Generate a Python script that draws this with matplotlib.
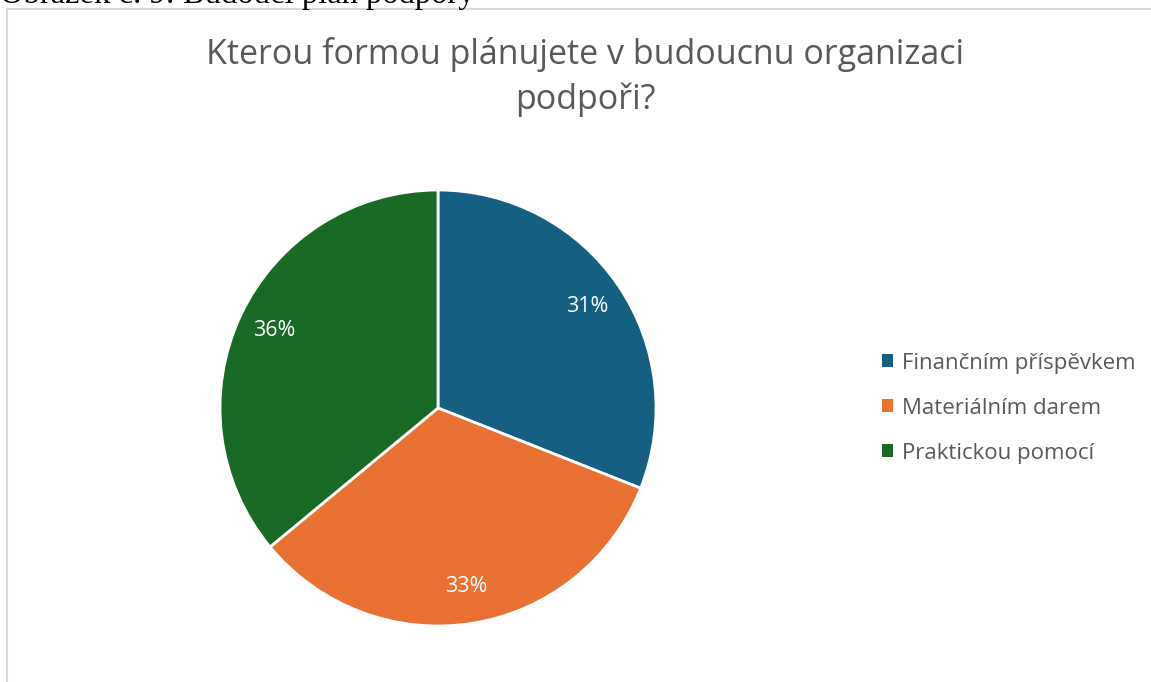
import matplotlib
matplotlib.use("Agg")
import matplotlib.pyplot as plt
from matplotlib.patches import Rectangle, Patch

categories = ["Finančním příspěvkem", "Materiálním darem", "Praktickou pomocí"]
values = [31, 33, 36]
colors = ["#156082", "#E97132", "#196B24"]
title = "Kterou formou plánujete v budoucnu organizaci\npodpoři?"
caption = "Obrázek č. 9: Budoucí plán podpory"

W, H = 1151, 682
fig = plt.figure(figsize=(W / 100, H / 100), dpi=100)
fig.patch.set_facecolor("white")
FONT = ["Open Sans", "DejaVu Sans"]

# chart frame
fig.patches.append(Rectangle((7 / W, -0.01), 1.2, (H - 9) / H + 0.01, transform=fig.transFigure,
                             fill=False, edgecolor="#D9D9D9", linewidth=1.5))

# caption (cut at top edge)
fig.text(0 / W, 1 - 2.5 / H, caption, family=["Liberation Serif"], fontsize=23.5,
         color="black", ha="left", va="baseline")

# title
fig.text(585 / W, 1 - 77 / H, title, family=FONT, fontsize=24.5, color="#595959",
         ha="center", va="center", linespacing=1.38, multialignment="center")

cx, cy, r = 438, 408, 218
ax = fig.add_axes([(cx - r) / W, (H - cy - r) / H, 2 * r / W, 2 * r / H])
wedges, texts, autotexts = ax.pie(values, colors=colors, startangle=90, counterclock=False,
                                  autopct="%1.0f%%", pctdistance=0.83,
                                  wedgeprops=dict(edgecolor="white", linewidth=2),
                                  textprops=dict(color="white", fontsize=15.5, family=FONT))
ax.set_xlim(-1, 1)
ax.set_ylim(-1, 1)
ax.set_aspect("equal")
ax.axis("off")

handles = [Patch(facecolor=c, edgecolor="none") for c in colors]
leg = fig.legend(handles, categories, loc="center left", bbox_to_anchor=(862 / W, 1 - 408 / H),
                 frameon=False, handlelength=0.5, handleheight=0.5, handletextpad=0.4,
                 labelspacing=1.08, prop=dict(family=FONT, size=16))
for t in leg.get_texts():
    t.set_color("#595959")

fig.savefig("out.png", dpi=100, facecolor="white")
